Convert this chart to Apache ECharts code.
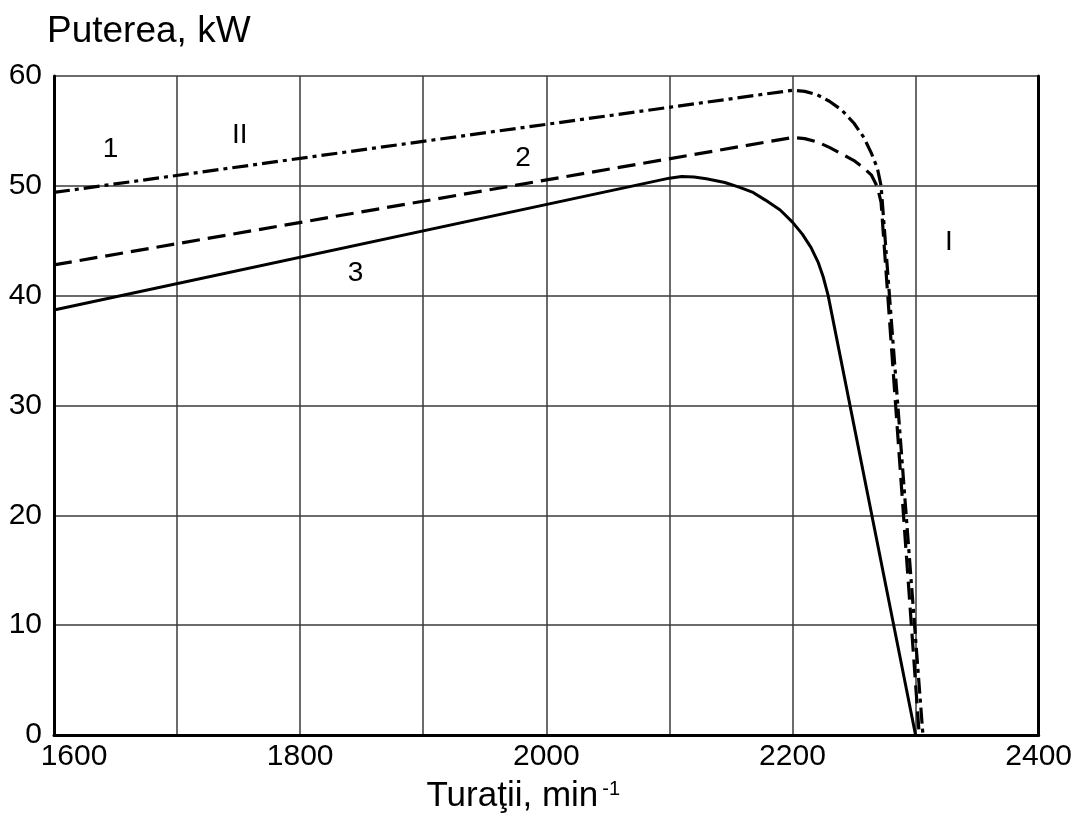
<!DOCTYPE html>
<html>
<head>
<meta charset="utf-8">
<script src="https://cdn.jsdelivr.net/npm/echarts@6/dist/echarts.min.js"></script>
<style>
html,body{margin:0;padding:0;background:#fff;}
#chart{width:1075px;height:821px;}
</style>
</head>
<body>
<div id="chart"></div>
<script>
// Curve 1 (dash-dot), speed in min^-1 and power in kW
const curve1Speed = [1600, 2200, 2210, 2220, 2230, 2240, 2250, 2258, 2264, 2269, 2272, 2306];
const curve1Power = [49.4, 58.7, 58.6, 58.3, 57.7, 56.9, 55.7, 54.4, 53.0, 51.6, 50.0, 0];
// Curve 2 (dashed)
const curve2Speed = [1600, 2200, 2210, 2220, 2230, 2240, 2250, 2258, 2264, 2269, 2272, 2303];
const curve2Power = [42.8, 54.4, 54.3, 54.0, 53.5, 52.9, 52.3, 51.6, 51.0, 49.9, 48.5, 0];
// Curve 3 (solid)
const curve3Speed = [1600, 2100, 2110, 2120, 2130, 2145, 2156, 2168, 2178, 2190, 2200, 2208, 2215, 2221, 2225, 2229, 2300];
const curve3Power = [38.7, 50.7, 50.85, 50.8, 50.65, 50.3, 49.9, 49.4, 48.7, 47.8, 46.7, 45.6, 44.4, 43.0, 41.7, 40.0, 0];
// Annotations
const noteText = ['1', 'II', '2', '3', 'I'];
const noteSpeed = [1646, 1751, 1981, 1845, 2327];
const notePower = [53.3, 54.6, 52.5, 42.0, 44.9];
// Axis ticks
const xTickLabels = [1600, 1800, 2000, 2200, 2400];
const yTickLabels = [0, 10, 20, 30, 40, 50, 60];

const pair = (xs, ys) => xs.map((x, i) => [x, ys[i]]);
const FONT = '"Liberation Sans", Arial, sans-serif';

const chart = echarts.init(document.getElementById('chart'), null, {renderer: 'canvas'});
chart.setOption({
  animation: false,
  backgroundColor: '#ffffff',
  textStyle: {fontFamily: FONT, color: '#000'},
  grid: {left: 54, right: 34, top: 76, bottom: 86, containLabel: false},
  xAxis: {
    type: 'value', min: 1600, max: 2400, interval: 100,
    name: '{a|Turaţii, min}{b|-1}',
    nameLocation: 'middle', nameGap: 44,
    nameTextStyle: {
      padding: [0, 46, 0, 0],
      rich: {
        a: {fontSize: 35, fontFamily: FONT, color: '#000', verticalAlign: 'bottom'},
        b: {fontSize: 20, fontFamily: FONT, color: '#000', verticalAlign: 'top', padding: [0, 0, 0, 4]}
      }
    },
    axisLine: {show: true, onZero: false, lineStyle: {color: '#000', width: 3}},
    axisTick: {show: false},
    splitLine: {show: true, lineStyle: {color: '#3a3a3a', width: 1.5}},
    axisLabel: {
      fontSize: 30, color: '#000', margin: 7, fontFamily: FONT,
      formatter: function (v) {
        if (xTickLabels.indexOf(v) < 0) return '';
        if (v === 1600) return '{f|' + v + '}';
        return String(v);
      },
      rich: {f: {fontSize: 30, fontFamily: FONT, color: '#000', padding: [0, 0, 0, 40]}}
    }
  },
  yAxis: [{
    type: 'value', min: 0, max: 60, interval: 10,
    name: 'Puterea, kW', nameLocation: 'end', nameGap: 26,
    nameTextStyle: {fontSize: 37, color: '#000', align: 'left', verticalAlign: 'bottom', fontFamily: FONT, padding: [0, 0, 0, -7]},
    axisLine: {show: true, onZero: false, lineStyle: {color: '#000', width: 3}},
    axisTick: {show: false},
    splitLine: {show: true, lineStyle: {color: '#3a3a3a', width: 1.5}},
    axisLabel: {
      fontSize: 30, color: '#000', margin: 12, fontFamily: FONT,
      formatter: v => (yTickLabels.indexOf(v) >= 0 ? String(v) : '')
    }
  }, {
    type: 'value', min: 0, max: 60, interval: 10, position: 'right',
    axisLine: {show: true, onZero: false, lineStyle: {color: '#000', width: 3}},
    axisTick: {show: false}, axisLabel: {show: false}, splitLine: {show: false}
  }],
  series: [
    {
      name: '1', type: 'line', data: pair(curve1Speed, curve1Power),
      showSymbol: false, symbol: 'none', smooth: false,
      lineStyle: {color: '#000', width: 3.2, type: [16, 5, 4, 5]}
    },
    {
      name: '2', type: 'line', data: pair(curve2Speed, curve2Power),
      showSymbol: false, symbol: 'none', smooth: false,
      lineStyle: {color: '#000', width: 3.2, type: [18, 8]}
    },
    {
      name: '3', type: 'line', data: pair(curve3Speed, curve3Power),
      showSymbol: false, symbol: 'none', smooth: false,
      lineStyle: {color: '#000', width: 3}
    },
    {
      name: 'notes', type: 'scatter', symbolSize: 1, silent: true,
      itemStyle: {opacity: 0, color: '#000'},
      data: noteText.map((t, i) => ({value: [noteSpeed[i], notePower[i]], name: t})),
      label: {
        show: true, position: 'inside', formatter: p => p.name,
        fontSize: 28, color: '#000', opacity: 1, fontFamily: FONT
      }
    }
  ]
});
</script>
</body>
</html>
